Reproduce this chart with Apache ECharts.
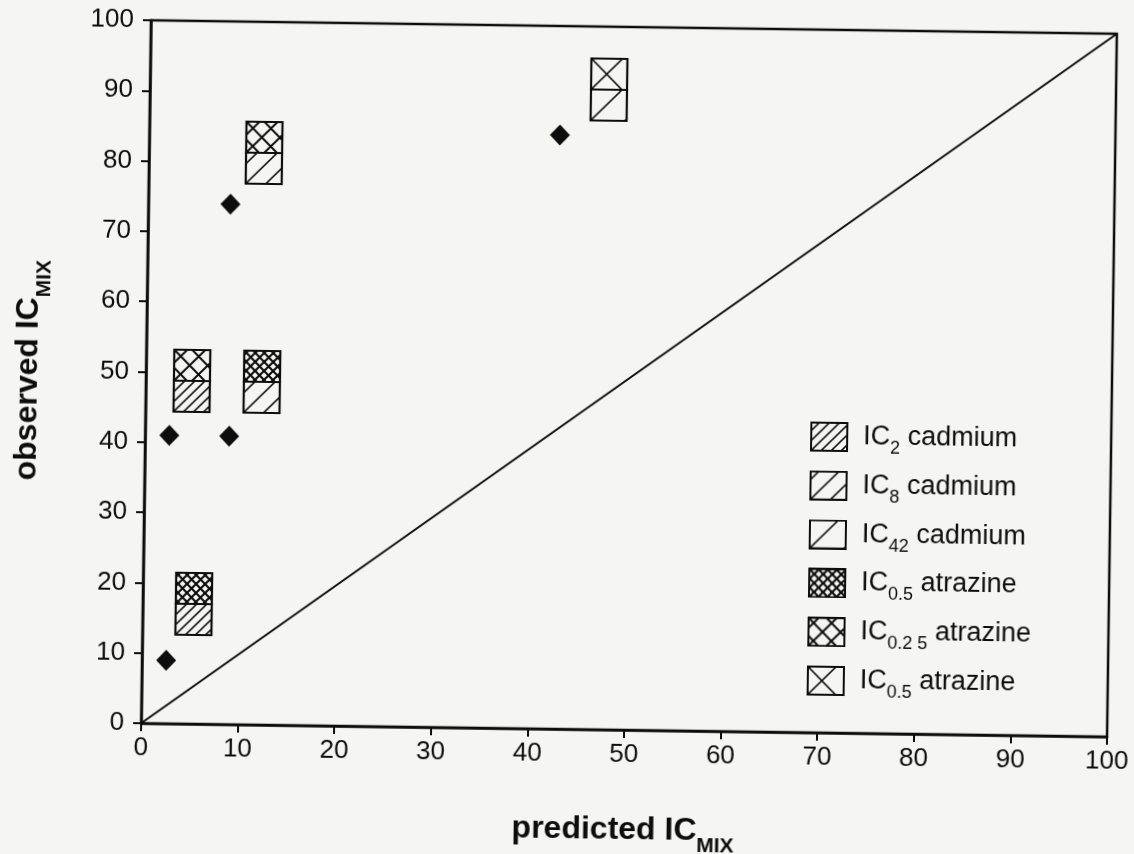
<!DOCTYPE html>
<html>
<head>
<meta charset="utf-8">
<script src="https://cdn.jsdelivr.net/npm/echarts@6/dist/echarts.min.js"></script>
<style>
  html, body { margin: 0; padding: 0; background: #f5f5f3; }
  /* the printed figure sits slightly skewed on the page */
  #chart { width: 1134px; height: 854px; transform: rotate(0.8deg); transform-origin: 629px 378px; }
</style>
</head>
<body>
<div id="chart"></div>
<script>
// Observed vs. predicted inhibition concentrations of cadmium/atrazine mixtures
const diamondX = [2.5, 2.5, 8.5, 8.7, 42.5];
const diamondY = [9, 41, 74, 41, 84.5];

// 1:1 reference line
const identityX = [0, 100];
const identityY = [0, 100];

// mixture markers: upper half = atrazine level, lower half = cadmium level
const comboX = [5.3, 4.8, 12.0, 11.9, 47.5];
const comboY = [17.1, 48.8, 48.8, 81.3, 91.1];
const comboAtrazine = ['at05', 'at025', 'at05', 'at025', 'at05s'];
const comboCadmium = ['cd2', 'cd2', 'cd8', 'cd8', 'cd42'];

// legend entries
const legendKeys = ['cd2', 'cd8', 'cd42', 'at05', 'at025', 'at05s'];
const legendLevel = ['2', '8', '42', '0.5', '0.2 5', '0.5'];
const legendSubstance = ['cadmium', 'cadmium', 'cadmium', 'atrazine', 'atrazine', 'atrazine'];

// axes
const axisMin = 0, axisMax = 100, axisStep = 10;
const xTitle = ['predicted IC', 'MIX'];
const yTitle = ['observed IC', 'MIX'];

// ---- styling ----
const INK = '#0d0d0d';
const PAPER = '#f5f5f3';
const FONT = '"Liberation Sans", Arial, sans-serif';
const BOX_W = 36, BOX_H = 31;
// hatch spacing: fwd = '/' lines, back = '\' lines
const HATCH = {
  cd2:   { fwd: 10, back: 0,  lw: 1.7 },
  cd8:   { fwd: 20, back: 0,  lw: 1.7 },
  cd42:  { fwd: 34, back: 0,  lw: 1.7 },
  at05:  { fwd: 9,  back: 9,  lw: 2.1 },
  at025: { fwd: 18, back: 18, lw: 1.9 },
  at05s: { fwd: 36, back: 36, lw: 1.7 }
};

// hatch line segments clipped to a rectangle
function hatchSegments(x0, y0, w, h, step, dir) {
  const segs = [];
  if (!step) return segs;
  for (let k = -40; k <= 40; k++) {
    if (dir === 1) {            // '/' : x + y = c, through bottom-left corner
      const c = x0 + y0 + h + k * step;
      const xa = Math.max(x0, c - (y0 + h)), xb = Math.min(x0 + w, c - y0);
      if (xb - xa > 0.8) segs.push([xa, c - xa, xb, c - xb]);
    } else {                    // '\' : x - y = c, through top-left corner
      const c = x0 - y0 + k * step;
      const xa = Math.max(x0, c + y0), xb = Math.min(x0 + w, c + y0 + h);
      if (xb - xa > 0.8) segs.push([xa, xa - c, xb, xb - c]);
    }
  }
  return segs;
}
function allSegments(key, x0, y0, w, h) {
  const hs = HATCH[key];
  return hatchSegments(x0, y0, w, h, hs.fwd, 1).concat(hatchSegments(x0, y0, w, h, hs.back, -1));
}

// legend swatch drawn to an image
function swatch(key) {
  const w = 38, h = 30;
  const cv = document.createElement('canvas');
  cv.width = w; cv.height = h;
  const g = cv.getContext('2d');
  g.fillStyle = PAPER; g.fillRect(0, 0, w, h);
  g.strokeStyle = INK; g.lineWidth = HATCH[key].lw;
  allSegments(key, 1, 1, w - 2, h - 2).forEach(s => {
    g.beginPath(); g.moveTo(s[0], s[1]); g.lineTo(s[2], s[3]); g.stroke();
  });
  g.lineWidth = 2; g.strokeRect(1, 1, w - 2, h - 2);
  return 'image://' + cv.toDataURL();
}

// per-pattern data: [x, y, half] where half 0 = upper, 1 = lower
const halves = {};
legendKeys.forEach(k => { halves[k] = []; });
comboX.forEach((x, i) => {
  halves[comboAtrazine[i]].push([x, comboY[i], 0]);
  halves[comboCadmium[i]].push([x, comboY[i], 1]);
});

function halfRenderer(key) {
  return function (params, api) {
    const p = api.coord([api.value(0), api.value(1)]);
    const x0 = Math.round(p[0] - BOX_W / 2);
    const y0 = Math.round(api.value(2) === 0 ? p[1] - BOX_H : p[1]);
    const children = [{
      type: 'rect', shape: { x: x0, y: y0, width: BOX_W, height: BOX_H },
      style: { fill: PAPER, stroke: 'none' }
    }];
    allSegments(key, x0, y0, BOX_W, BOX_H).forEach(s => {
      children.push({
        type: 'line', shape: { x1: s[0], y1: s[1], x2: s[2], y2: s[3] },
        style: { stroke: INK, lineWidth: HATCH[key].lw }
      });
    });
    children.push({
      type: 'rect', shape: { x: x0, y: y0, width: BOX_W, height: BOX_H },
      style: { fill: 'none', stroke: INK, lineWidth: 2.2 }
    });
    return { type: 'group', children };
  };
}

// subscripts are pushed down with top padding
const titleRich = {
  t: { fontFamily: FONT, fontSize: 32, fontWeight: 'bold', color: INK, lineHeight: 36, verticalAlign: 'top' },
  s: { fontFamily: FONT, fontSize: 21, fontWeight: 'bold', color: INK, lineHeight: 21, verticalAlign: 'top', padding: [21, 0, 0, 0] }
};

const chart = echarts.init(document.getElementById('chart'), null, { renderer: 'canvas' });
chart.setOption({
  animation: false,
  backgroundColor: PAPER,
  grid: {
    left: 146, top: 27, width: 966, height: 703,
    containLabel: false, outerBoundsMode: 'none',
    show: true, borderColor: INK, borderWidth: 2.5, backgroundColor: 'transparent'
  },
  xAxis: {
    type: 'value', min: axisMin, max: axisMax, interval: axisStep,
    name: '{t|' + xTitle[0] + '}{s|' + xTitle[1] + '}',
    nameLocation: 'middle', nameGap: 84,
    nameTextStyle: { rich: titleRich },
    axisLine: { show: true, lineStyle: { color: INK, width: 2.5 } },
    axisTick: { show: true, inside: false, length: 8, lineStyle: { color: INK, width: 2 } },
    axisLabel: { margin: 12, color: INK, fontFamily: FONT, fontSize: 26 },
    splitLine: { show: false }
  },
  yAxis: {
    type: 'value', min: axisMin, max: axisMax, interval: axisStep,
    name: '{t|' + yTitle[0] + '}{s|' + yTitle[1] + '}',
    nameLocation: 'middle', nameGap: 98,
    nameTextStyle: { rich: titleRich },
    axisLine: { show: true, lineStyle: { color: INK, width: 2.5 } },
    axisTick: { show: true, inside: false, length: 8, lineStyle: { color: INK, width: 2 } },
    axisLabel: { margin: 17, color: INK, fontFamily: FONT, fontSize: 26 },
    splitLine: { show: false }
  },
  legend: {
    orient: 'vertical', left: 811, top: 419, padding: 0,
    itemWidth: 38, itemHeight: 30, itemGap: 13.8,
    selectedMode: false,
    data: legendKeys.map(k => ({ name: k, icon: swatch(k) })),
    formatter: function (name) {
      const i = legendKeys.indexOf(name);
      return '{a|IC}{s|' + legendLevel[i] + '}{t| ' + legendSubstance[i] + '}';
    },
    textStyle: {
      rich: {
        a: { fontFamily: FONT, fontSize: 27, color: INK, lineHeight: 28, verticalAlign: 'top', padding: [0, 0, 0, 10] },
        t: { fontFamily: FONT, fontSize: 27, color: INK, lineHeight: 28, verticalAlign: 'top' },
        s: { fontFamily: FONT, fontSize: 18, color: INK, lineHeight: 17, verticalAlign: 'top', padding: [16, 0, 0, 0] }
      }
    }
  },
  series: [
    {
      type: 'line', name: 'identity', silent: true,
      data: identityX.map((x, i) => [x, identityY[i]]),
      showSymbol: false, symbol: 'none',
      lineStyle: { color: INK, width: 2 }, z: 2
    },
    {
      type: 'scatter', name: 'observed',
      data: diamondX.map((x, i) => [x, diamondY[i]]),
      symbol: 'diamond', symbolSize: [20, 21],
      itemStyle: { color: INK, opacity: 1 }, z: 4
    }
  ].concat(legendKeys.map(k => ({
    type: 'custom', name: k,
    data: halves[k],
    renderItem: halfRenderer(k),
    itemStyle: { color: INK },
    z: 3
  })))
});
</script>
</body>
</html>
